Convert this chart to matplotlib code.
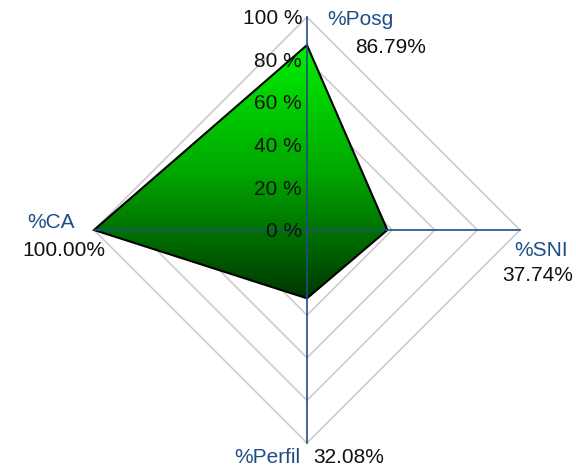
import numpy as np
import matplotlib
matplotlib.use("Agg")
import matplotlib.pyplot as plt
from matplotlib.patches import Polygon
from matplotlib.colors import LinearSegmentedColormap

plt.rcParams['font.family'] = ['Liberation Sans', 'DejaVu Sans']

# Data
categories = ["%Posg", "%SNI", "%Perfil", "%CA"]
values = [86.79, 37.74, 32.08, 100.00]
ring_levels = [20, 40, 60, 80, 100]
tick_labels = ["0 %", "20 %", "40 %", "60 %", "80 %", "100 %"]

# angles: top, right, bottom, left (clockwise from top)
angles = np.pi / 2 - np.arange(len(categories)) * 2 * np.pi / len(categories)


def to_xy(r):
    r = np.asarray(r, dtype=float)
    return r * np.cos(angles), r * np.sin(angles)


fig = plt.figure(figsize=(5.76, 4.69), dpi=100)
ax = fig.add_axes([0, 0, 1, 1])
scale = 2.13
ax.set_xlim(-307 / scale, (576 - 307) / scale)
ax.set_ylim(-239 / scale, 230 / scale)
ax.axis('off')

grid_color = "#cccccc"
axis_color = "#1f4e85"

# grid diamonds
for lvl in ring_levels:
    gx, gy = to_xy([lvl] * len(categories))
    ax.add_patch(Polygon(np.column_stack([gx, gy]), closed=True, fill=False,
                         edgecolor=grid_color, linewidth=1.2, zorder=1))

# data polygon with vertical gradient
px, py = to_xy(values)
poly = Polygon(np.column_stack([px, py]), closed=True, facecolor='none',
               edgecolor='black', linewidth=1.5, zorder=4)
ax.add_patch(poly)
cmap = LinearSegmentedColormap.from_list("grn", ["#003800", "#00a800", "#00f000"])
grad = np.linspace(0, 1, 256).reshape(-1, 1)
img = ax.imshow(grad, cmap=cmap, origin='lower', aspect='auto',
                extent=[px.min(), px.max(), py.min(), py.max()], zorder=2)
img.set_clip_path(poly)

# axis lines
for ang in angles:
    ax.plot([0, 100 * np.cos(ang)], [0, 100 * np.sin(ang)],
            color=axis_color, linewidth=1.2, zorder=5)

fs = 15

# radial tick labels
for lvl, lab in zip([0] + ring_levels, tick_labels):
    ax.text(-2.3, lvl - 0.8, lab, ha='right', va='center', fontsize=fs,
            color='#111111', zorder=6)

# category labels and values
ax.text(9.4, 98.6, categories[0], ha='left', va='center', fontsize=fs, color=axis_color)
ax.text(22.5, 85.9, "%.2f%%" % values[0], ha='left', va='center', fontsize=fs, color='#111111')

ax.text(109.9, -9.4, categories[1], ha='center', va='center', fontsize=fs, color=axis_color)
ax.text(108.2, -21.5, "%.2f%%" % values[1], ha='center', va='center', fontsize=fs, color='#111111')

ax.text(-3.3, -107.0, categories[2], ha='right', va='center', fontsize=fs, color=axis_color)
ax.text(2.8, -107.0, "%.2f%%" % values[2], ha='left', va='center', fontsize=fs, color='#111111')

ax.text(-120.2, 3.3, categories[3], ha='center', va='center', fontsize=fs, color=axis_color)
ax.text(-114.0, -9.4, "%.2f%%" % values[3], ha='center', va='center', fontsize=fs, color='#111111')

fig.savefig("out.png", dpi=100)
